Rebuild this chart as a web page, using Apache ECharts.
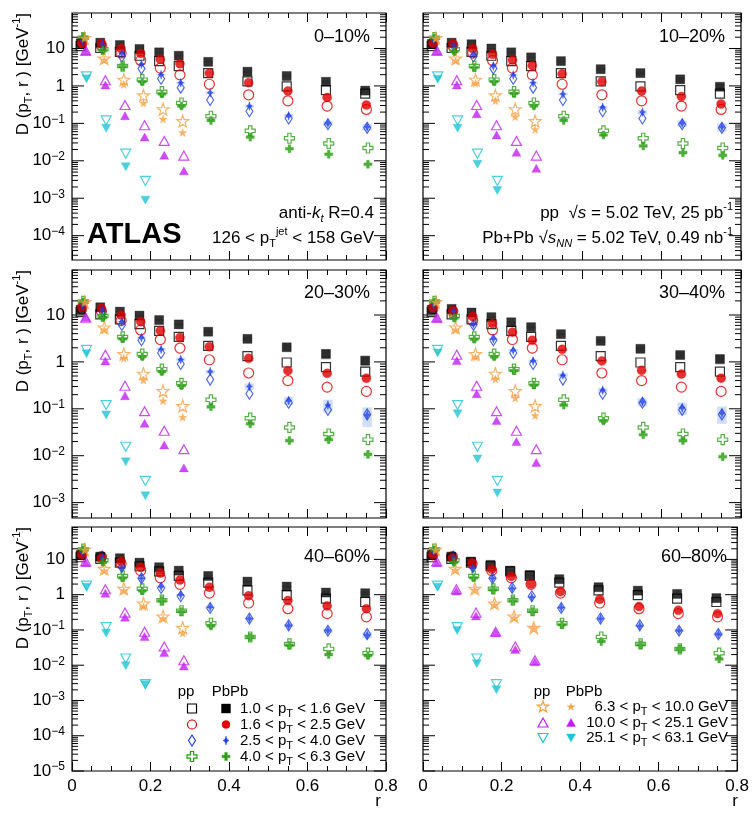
<!DOCTYPE html>
<html><head><meta charset="utf-8">
<script src="https://cdn.jsdelivr.net/npm/echarts@6.0.0/dist/echarts.min.js"></script>
<style>html,body{margin:0;padding:0;background:#fff;}#chart{width:752px;height:813px;}</style>
</head><body><div id="chart"></div>
<script>
// ---------------- data ----------------
const rCenters = [0.025, 0.075, 0.125, 0.175, 0.225, 0.275, 0.35, 0.45, 0.55, 0.65, 0.75];
const ptBinLow  = ['1.0', '1.6', '2.5', '4.0', '6.3', '10.0', '25.1'];
const ptBinHigh = ['1.6', '2.5', '4.0', '6.3', '10.0', '25.1', '63.1'];
const centralityLabels = ['0–10%', '10–20%', '20–30%', '30–40%', '40–60%', '60–80%'];
const xTickLabels = ['0', '0.2', '0.4', '0.6', '0.8'];

// pp reference (same in every panel)
const pp_pt1 = [11.5, 10.3, 8.1, 6.4, 4.6, 3.4, 2.2, 1.33, 0.97, 0.77, 0.62];
const pp_pt2 = [13.5, 12.0, 7.6, 4.8, 3.0, 1.97, 1.11, 0.58, 0.40, 0.29, 0.235];
const pp_pt3 = [16.0, 12.0, 6.1, 2.9, 1.55, 0.90, 0.42, 0.21, 0.135, 0.095, 0.076];
const pp_pt4 = [19.5, 9.5, 3.4, 1.47, 0.70, 0.35, 0.155, 0.063, 0.040, 0.029, 0.022];
const pp_pt5 = [19.0, 5.4, 1.47, 0.56, 0.24, 0.115];
const pp_pt6 = [8.8, 1.42, 0.31, 0.089, 0.034, 0.0138];
const pp_pt7 = [1.8, 0.12, 0.0155, 0.0029];

// Pb+Pb, one list per pT bin
const pbpb_0_10 = [
  [13.8, 14.3, 12.4, 9.7, 7.9, 6.4, 4.4, 2.4, 1.84, 1.29, 0.75],
  [14.0, 13.8, 10.0, 7.4, 5.1, 3.9, 2.2, 1.22, 0.73, 0.49, 0.31],
  [16.0, 13.2, 7.4, 3.8, 2.0, 1.22, 0.66, 0.29, 0.16, 0.10, 0.080],
  [20.0, 9.0, 3.3, 1.3, 0.61, 0.29, 0.12, 0.043, 0.021, 0.015, 0.0081],
  [19.0, 4.9, 1.1, 0.35, 0.13, 0.057],
  [8.5, 1.06, 0.16, 0.043, 0.014, 0.0054],
  [1.55, 0.074, 0.0069, 0.00089]
];
const pbpb_10_20 = [
  [13.2, 14.3, 13.0, 10.0, 7.9, 5.8, 4.6, 2.8, 2.2, 1.5, 0.95],
  [14.0, 13.8, 10.0, 7.0, 4.9, 3.5, 2.1, 1.3, 0.73, 0.52, 0.33],
  [16.0, 12.4, 7.0, 3.4, 1.96, 1.22, 0.61, 0.27, 0.20, 0.10, 0.080],
  [19.0, 8.2, 3.1, 1.3, 0.63, 0.29, 0.12, 0.049, 0.025, 0.0165, 0.014],
  [18.5, 4.7, 1.18, 0.40, 0.15, 0.069],
  [8.5, 1.06, 0.18, 0.049, 0.017, 0.0063],
  [1.5, 0.074, 0.0081, 0.0016]
];
const pbpb_20_30 = [
  [13.0, 14.6, 11.8, 9.7, 7.8, 6.3, 4.4, 3.1, 2.05, 1.48, 1.06],
  [15.0, 13.9, 10.0, 7.2, 4.6, 3.3, 2.1, 1.19, 0.65, 0.57, 0.45],
  [16.0, 12.8, 7.2, 3.3, 1.86, 1.13, 0.62, 0.30, 0.15, 0.12, 0.074],
  [19.0, 8.9, 3.1, 1.29, 0.62, 0.31, 0.11, 0.048, 0.021, 0.022, 0.0107],
  [18.5, 4.8, 1.2, 0.41, 0.148, 0.066],
  [8.9, 1.05, 0.19, 0.049, 0.017, 0.0055],
  [1.5, 0.074, 0.0074, 0.0014]
];
const pbpb_30_40 = [
  [13.0, 13.5, 11.3, 9.0, 7.0, 5.5, 3.9, 2.8, 1.9, 1.4, 1.15],
  [14.5, 12.5, 9.3, 6.6, 4.3, 2.9, 1.85, 1.05, 0.66, 0.55, 0.45],
  [16.0, 12.0, 6.4, 3.1, 1.78, 1.05, 0.52, 0.25, 0.14, 0.105, 0.080],
  [19.0, 8.6, 3.05, 1.28, 0.65, 0.32, 0.12, 0.055, 0.028, 0.021, 0.0095],
  [18.5, 4.8, 1.25, 0.43, 0.17, 0.072],
  [8.5, 1.07, 0.21, 0.056, 0.020, 0.0072],
  [1.55, 0.078, 0.0085, 0.0016]
];
const pbpb_40_60 = [
  [13.4, 12.0, 10.8, 8.1, 6.0, 4.8, 3.4, 2.35, 1.7, 1.15, 1.1],
  [14.0, 10.8, 8.7, 6.0, 4.1, 2.6, 1.63, 0.93, 0.68, 0.48, 0.40],
  [16.0, 11.0, 5.6, 2.9, 1.7, 0.99, 0.44, 0.21, 0.133, 0.096, 0.072],
  [18.6, 8.3, 3.0, 1.28, 0.68, 0.33, 0.13, 0.062, 0.037, 0.020, 0.019],
  [18.5, 4.7, 1.3, 0.46, 0.21, 0.081],
  [8.1, 1.1, 0.23, 0.065, 0.023, 0.0095],
  [1.63, 0.081, 0.0096, 0.0028]
];
const pbpb_60_80 = [
  [13.4, 12.0, 8.7, 7.0, 4.8, 3.6, 2.75, 1.63, 1.3, 1.05, 0.80],
  [14.0, 10.8, 8.1, 5.3, 3.3, 2.0, 1.22, 0.74, 0.46, 0.36, 0.29],
  [16.0, 11.0, 5.6, 2.9, 1.5, 0.85, 0.43, 0.21, 0.13, 0.096, 0.076],
  [18.6, 8.3, 3.0, 1.37, 0.68, 0.33, 0.14, 0.047, 0.038, 0.029, 0.015],
  [18.5, 5.0, 1.37, 0.51, 0.22, 0.112],
  [8.1, 1.28, 0.25, 0.085, 0.028, 0.0126],
  [1.63, 0.096, 0.011, 0.0020]
];

// Pb+Pb relative systematic uncertainties (shaded boxes), pT bins 1.0-1.6, 1.6-2.5, 2.5-4.0, 4.0-6.3
const sys_0_10 = [
  [0.03, 0.03, 0.03, 0.03, 0.04, 0.05, 0.06, 0.08, 0.10, 0.12, 0.15],
  [0.03, 0.03, 0.03, 0.03, 0.04, 0.05, 0.06, 0.07, 0.08, 0.10, 0.12],
  [0.03, 0.03, 0.03, 0.04, 0.05, 0.06, 0.08, 0.10, 0.12, 0.15, 0.20],
  [0.03, 0.03, 0.03, 0.04, 0.05, 0.06, 0.07, 0.08, 0.10, 0.12, 0.15]
];
const sys_10_20 = [
  [0.03, 0.03, 0.03, 0.03, 0.04, 0.05, 0.06, 0.08, 0.10, 0.15, 0.22],
  [0.03, 0.03, 0.03, 0.03, 0.04, 0.05, 0.06, 0.07, 0.08, 0.10, 0.14],
  [0.03, 0.03, 0.03, 0.04, 0.05, 0.06, 0.08, 0.10, 0.15, 0.20, 0.25],
  [0.03, 0.03, 0.03, 0.04, 0.05, 0.06, 0.07, 0.08, 0.10, 0.12, 0.15]
];
const sys_20_30 = [
  [0.03, 0.03, 0.03, 0.04, 0.05, 0.06, 0.08, 0.10, 0.15, 0.25, 0.30],
  [0.03, 0.03, 0.03, 0.04, 0.05, 0.06, 0.06, 0.08, 0.10, 0.15, 0.20],
  [0.03, 0.03, 0.04, 0.05, 0.06, 0.08, 0.10, 0.15, 0.20, 0.30, 0.45],
  [0.03, 0.03, 0.03, 0.04, 0.05, 0.06, 0.08, 0.10, 0.12, 0.15, 0.20]
];
const sys_30_40 = [
  [0.03, 0.03, 0.03, 0.04, 0.05, 0.06, 0.07, 0.10, 0.12, 0.18, 0.25],
  [0.03, 0.03, 0.03, 0.04, 0.05, 0.06, 0.06, 0.08, 0.10, 0.12, 0.16],
  [0.03, 0.03, 0.04, 0.05, 0.06, 0.08, 0.10, 0.12, 0.20, 0.30, 0.40],
  [0.03, 0.03, 0.03, 0.04, 0.05, 0.06, 0.07, 0.08, 0.10, 0.12, 0.15]
];
const sys_40_60 = [
  [0.03, 0.03, 0.03, 0.03, 0.04, 0.05, 0.05, 0.06, 0.08, 0.10, 0.12],
  [0.03, 0.03, 0.03, 0.03, 0.04, 0.05, 0.05, 0.06, 0.07, 0.08, 0.10],
  [0.03, 0.03, 0.03, 0.04, 0.05, 0.06, 0.06, 0.08, 0.10, 0.15, 0.20],
  [0.03, 0.03, 0.03, 0.04, 0.05, 0.05, 0.06, 0.07, 0.08, 0.10, 0.12]
];
const sys_60_80 = [
  [0.03, 0.03, 0.03, 0.03, 0.04, 0.05, 0.05, 0.06, 0.07, 0.08, 0.10],
  [0.03, 0.03, 0.03, 0.03, 0.04, 0.05, 0.05, 0.06, 0.06, 0.07, 0.08],
  [0.03, 0.03, 0.03, 0.04, 0.05, 0.05, 0.06, 0.07, 0.08, 0.10, 0.12],
  [0.03, 0.03, 0.03, 0.04, 0.05, 0.05, 0.06, 0.07, 0.08, 0.10, 0.12]
];

const ppSets = [pp_pt1, pp_pt2, pp_pt3, pp_pt4, pp_pt5, pp_pt6, pp_pt7];
const pbpbSets = [pbpb_0_10, pbpb_10_20, pbpb_20_30, pbpb_30_40, pbpb_40_60, pbpb_60_80];
const sysSets = [sys_0_10, sys_10_20, sys_20_30, sys_30_40, sys_40_60, sys_60_80];

// ---------------- styling / layout ----------------
const FONT = "'Liberation Sans', Arial, Helvetica, sans-serif";
const SHAPES = {
  square: [[-1,-1],[1,-1],[1,1],[-1,1]],
  diamond: [[0,-1],[1,0],[0,1],[-1,0]],
  spike: [[0,-1],[0.35,-0.3],[1,0],[0.35,0.3],[0,1],[-0.35,0.3],[-1,0],[-0.35,-0.3]],
  cross: [[-0.33,-1],[0.33,-1],[0.33,-0.33],[1,-0.33],[1,0.33],[0.33,0.33],[0.33,1],[-0.33,1],[-0.33,0.33],[-1,0.33],[-1,-0.33],[-0.33,-0.33]],
  star: [[0,-1],[0.235,-0.324],[0.951,-0.309],[0.38,0.124],[0.588,0.809],[0,0.4],[-0.588,0.809],[-0.38,0.124],[-0.951,-0.309],[-0.235,-0.324]],
  triUp: [[0,-1],[1,1],[-1,1]],
  triDown: [[-1,-1],[1,-1],[0,1]]
};
function pathOf(n) { return n === 'circle' ? 'circle' : 'path://M' + SHAPES[n].map(p => p[0] + ',' + p[1]).join('L') + 'Z'; }
const MARKERS = [
  {color:'#000000', band:'rgba(0,0,0,0.14)',      open:{shape:'square', size:[9,9]},   fill:{shape:'square', size:[9,9]}},
  {color:'#e00000', band:'rgba(230,0,0,0.13)',    open:{shape:'circle', size:[10,10]}, fill:{shape:'circle', size:[9,9]}},
  {color:'#1f3fe6', band:'rgba(40,100,235,0.22)', open:{shape:'diamond', size:[7,11]}, fill:{shape:'spike', size:[6,9]}},
  {color:'#2a9d14', band:'rgba(40,170,20,0.13)',  open:{shape:'cross', size:[10,10]},  fill:{shape:'cross', size:[8,8]}},
  {color:'#f7a044', open:{shape:'star', size:[12,12]},   fill:{shape:'star', size:[8,8]}},
  {color:'#c21ef2', open:{shape:'triUp', size:[10,9]},   fill:{shape:'triUp', size:[9,8]}},
  {color:'#20c4d4', open:{shape:'triDown', size:[10,9]}, fill:{shape:'triDown', size:[9,8]}}
];
const XOFF = [-0.003, 0, 0.002, 0.004, 0.007, 0.010, 0.012];
const BOX_HALF_WIDTH = 0.012;

const COLS = [{left:72, width:314}, {left:423, width:318}];
const ROWS = [{top:13, height:247, min:2.24e-5, max:88.7},
              {top:270, height:248, min:4.7e-4, max:91},
              {top:527, height:244, min:1e-5, max:83}];

const grids = [], xAxes = [], yAxes = [], series = [];

function yTickData(mn, mx) {
  const out = [];
  for (let k = Math.floor(Math.log10(mn)); k <= Math.ceil(Math.log10(mx)); k++) {
    for (let m = 1; m <= 9; m++) {
      const v = m * Math.pow(10, k);
      if (v >= mn * 0.9999 && v <= mx * 1.0001) out.push([0.4, v, m === 1 ? 1 : 0]);
    }
  }
  return out;
}
function expFormatter(v) {
  const e = Math.round(Math.log10(v));
  if (e === 1) return '10';
  if (e === 0) return '1';
  return '10{sup|−' + (-e) + '}';
}

for (let i = 0; i < 6; i++) {
  const col = i % 2, row = Math.floor(i / 2);
  const C = COLS[col], R = ROWS[row];
  grids.push({left:C.left, top:R.top, width:C.width, height:R.height, show:true,
              borderColor:'#000', borderWidth:1.2, backgroundColor:'transparent'});
  const xBase = {gridIndex:i, type:'value', min:0, max:0.8, interval:0.2,
    axisLine:{show:false}, splitLine:{show:false},
    axisTick:{show:true, inside:true, length:9, lineStyle:{color:'#000', width:1}},
    minorTick:{show:true, splitNumber:4, length:5, lineStyle:{color:'#000', width:1}},
    minorSplitLine:{show:false}};
  xAxes.push(Object.assign({}, xBase, {position:'bottom',
    axisLabel:{show: row === 2, color:'#000', fontSize:17, fontFamily:FONT, margin:7,
      formatter: v => xTickLabels[Math.round(v / 0.2)]}}));
  xAxes.push(Object.assign({}, xBase, {position:'top', axisLabel:{show:false}}));
  yAxes.push({gridIndex:i, type:'log', logBase:10, min:R.min, max:R.max,
    axisLine:{show:false}, axisTick:{show:false}, splitLine:{show:false}, minorTick:{show:false},
    axisLabel:{show: col === 0, color:'#000', fontSize:17, fontFamily:FONT, margin:7, lineHeight:20,
      showMinLabel: row === 2, showMaxLabel:false, formatter: expFormatter,
      rich:{sup:{fontSize:12, fontFamily:FONT, color:'#000', verticalAlign:'top', lineHeight:12}}}});
  const xi = 2 * i;
  // y ticks on both sides (major + minor), drawn from the log scale
  series.push({type:'custom', xAxisIndex:xi, yAxisIndex:i, silent:true, clip:false, z:5,
    encode:{x:0, y:1}, data: yTickData(R.min, R.max),
    renderItem: (params, api) => {
      const v = api.value(1), major = api.value(2);
      const p = api.coord([0, v]), q = api.coord([0.8, v]);
      const L = major ? 12 : 6;
      return {type:'group', children:[
        {type:'line', shape:{x1:p[0], y1:p[1], x2:p[0] + L, y2:p[1]}, style:{stroke:'#000', lineWidth:1}},
        {type:'line', shape:{x1:q[0], y1:q[1], x2:q[0] - L, y2:q[1]}, style:{stroke:'#000', lineWidth:1}}
      ]};
    }});
  // systematic uncertainty boxes for Pb+Pb (low pT bins)
  for (let k = 0; k < 4; k++) {
    const vals = pbpbSets[i][k], rel = sysSets[i][k], M = MARKERS[k];
    series.push({type:'custom', xAxisIndex:xi, yAxisIndex:i, silent:true, z:1,
      encode:{x:0, y:1},
      data: vals.map((v, j) => [rCenters[j] + XOFF[k], v, v * (1 - rel[j]), v * (1 + rel[j])]),
      renderItem: (params, api) => {
        const x = api.value(0);
        const a = api.coord([x - BOX_HALF_WIDTH, api.value(3)]);
        const b = api.coord([x + BOX_HALF_WIDTH, api.value(2)]);
        return {type:'rect', shape:{x:a[0], y:a[1], width:b[0] - a[0], height:b[1] - a[1]},
                style:{fill:M.band}};
      }});
  }
  // pp (open) then Pb+Pb (filled)
  for (let k = 0; k < 7; k++) {
    const M = MARKERS[k];
    series.push({type:'scatter', xAxisIndex:xi, yAxisIndex:i, silent:true, z:3,
      symbol: pathOf(M.open.shape), symbolSize: M.open.size,
      itemStyle:{color:'rgba(0,0,0,0)', borderColor:M.color, borderWidth:1.2},
      data: ppSets[k].map((v, j) => [rCenters[j] + XOFF[k], v])});
  }
  for (let k = 0; k < 7; k++) {
    const M = MARKERS[k];
    series.push({type:'scatter', xAxisIndex:xi, yAxisIndex:i, silent:true, z:4,
      symbol: pathOf(M.fill.shape), symbolSize: M.fill.size,
      itemStyle:{color:M.color, borderColor:M.color, borderWidth:0.4},
      data: pbpbSets[i][k].map((v, j) => [rCenters[j] + XOFF[k], v])});
  }
}

// ---------------- text & legends ----------------
const RICH = {
  sub:{fontSize:11, fontFamily:FONT, fill:'#000', verticalAlign:'bottom', lineHeight:11},
  sup:{fontSize:11, fontFamily:FONT, fill:'#000', verticalAlign:'top', lineHeight:11},
  it:{fontSize:17, fontFamily:FONT, fontStyle:'italic', fill:'#000'},
  subit:{fontSize:11, fontFamily:FONT, fontStyle:'italic', fill:'#000', verticalAlign:'bottom', lineHeight:11}
};
function txt(x, y, text, size, align, extra) {
  return Object.assign({type:'text', x, y, silent:true, z:50,
    style:{text, fill:'#000', fontSize:size, fontFamily:FONT, align, verticalAlign:'middle', lineHeight:size + 6, rich:RICH}}, extra || {});
}
const graphics = [];
const pctPos = [[370,37],[725,37],[370,293],[725,293],[370,557],[727,557]];
centralityLabels.forEach((c, i) => graphics.push(txt(pctPos[i][0], pctPos[i][1], c, 18, 'right')));
graphics.push({type:'text', x:87, y:235, silent:true, z:50,
  style:{text:'ATLAS', fill:'#000', fontSize:29, fontWeight:'bold', fontFamily:FONT, align:'left', verticalAlign:'middle'}});
graphics.push(txt(374, 213, 'anti-{it|k}{subit|t} R=0.4', 17, 'right'));
graphics.push(txt(374, 238, '126 < p{sub|T}{sup|jet} < 158 GeV', 17, 'right'));
graphics.push(txt(733, 213, 'pp  √{it|s} = 5.02 TeV, 25 pb{sup|-1}', 17, 'right'));
graphics.push(txt(733, 238, 'Pb+Pb √{it|s}{subit|NN} = 5.02 TeV, 0.49 nb{sup|-1}', 17, 'right'));
// y titles
[13, 270, 527].forEach(y => graphics.push(txt(23, y, 'D (p{sub|T}, r ) [GeV{sup|-1}]', 17, 'right', {rotation: Math.PI / 2})));
// x titles
graphics.push(txt(378, 801, 'r', 17, 'center'));
graphics.push(txt(735, 801, 'r', 17, 'center'));

function legendMarker(def, cx, cy, color, filled) {
  const style = filled ? {fill:color, stroke:color, lineWidth:0.4} : {fill:'none', stroke:color, lineWidth:1.2};
  if (def.shape === 'circle') return {type:'circle', silent:true, z:50, shape:{cx, cy, r:def.size[0] / 2 - 0.5}, style};
  return {type:'polygon', silent:true, z:50, style,
    shape:{points: SHAPES[def.shape].map(p => [cx + p[0] * def.size[0] / 2, cy + p[1] * def.size[1] / 2])}};
}
// left legend (bins 0-3)
graphics.push(txt(186, 692, 'pp', 15, 'center'));
graphics.push(txt(230, 692, 'PbPb', 15, 'center'));
for (let k = 0; k < 4; k++) {
  const y = 708.5 + 16 * k, M = MARKERS[k];
  graphics.push(legendMarker(M.open, 192, y, M.color, false));
  graphics.push(legendMarker(M.fill, 226, y, M.color, true));
  graphics.push(txt(240, y, ptBinLow[k] + ' < p{sub|T} < ' + ptBinHigh[k] + ' GeV', 15, 'left'));
}
// right legend (bins 4-6)
graphics.push(txt(542, 692, 'pp', 15, 'center'));
graphics.push(txt(584, 692, 'PbPb', 15, 'center'));
for (let k = 4; k < 7; k++) {
  const y = 707 + 15.5 * (k - 4), M = MARKERS[k];
  graphics.push(legendMarker(M.open, 543, y, M.color, false));
  graphics.push(legendMarker(M.fill, 571, y, M.color, true));
  graphics.push(txt(728, y, ptBinLow[k] + ' < p{sub|T} < ' + ptBinHigh[k] + ' GeV', 15, 'right'));
}

const chart = echarts.init(document.getElementById('chart'), null, {renderer:'canvas'});
chart.setOption({animation:false, backgroundColor:'#fff', grid:grids, xAxis:xAxes, yAxis:yAxes, series, graphic:graphics});
</script>
</body></html>
